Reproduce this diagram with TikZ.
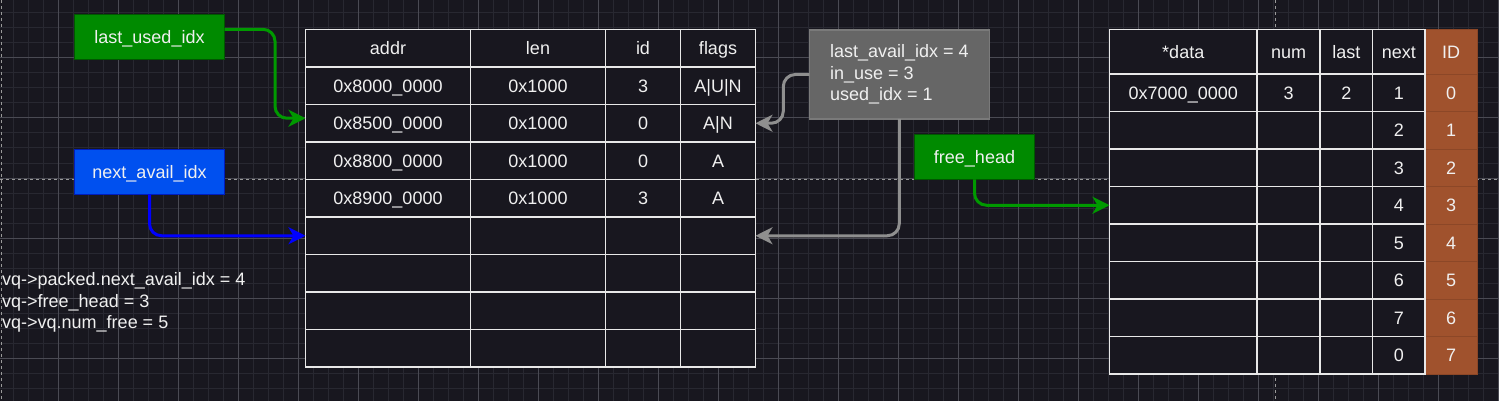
\documentclass[tikz,border=0pt]{standalone}
\usepackage{fontspec}
\setmainfont{Liberation Sans}
\usetikzlibrary{arrows.meta}
\definecolor{bg}{HTML}{18171F}
\definecolor{gminor}{HTML}{282831}
\definecolor{gmajor}{HTML}{4A4A53}
\definecolor{pagebrk}{HTML}{9A9A9A}
\definecolor{cellline}{HTML}{E8E8E8}
\definecolor{txt}{HTML}{F0F0F0}
\definecolor{idfill}{HTML}{A0522D}
\definecolor{idline}{HTML}{8C4727}
\definecolor{gfill}{HTML}{008A00}
\definecolor{gline}{HTML}{005700}
\definecolor{bfill}{HTML}{0050EF}
\definecolor{bline}{HTML}{001DBC}
\definecolor{grfill}{HTML}{666666}
\definecolor{grline}{HTML}{7A7A7A}
\definecolor{garrowc}{HTML}{009900}
\definecolor{barrowc}{HTML}{0000FF}
\definecolor{grarrowc}{HTML}{8F8F8F}
\newcommand\dfont{\fontsize{18}{21.5}\selectfont}
\tikzset{
  cell/.style={draw=cellline, fill=bg, line width=1.5pt, inner sep=0pt, outer sep=0pt,
    anchor=north west, text=txt, font=\dfont, text height=14.5pt, text depth=1.5pt},
  idcell/.style={draw=idline, fill=idfill, line width=0.8pt, inner sep=0pt, outer sep=0pt,
    anchor=north west, text=txt, font=\dfont, text height=14.5pt, text depth=1.5pt},
  boxbase/.style={line width=1.2pt, inner sep=0pt, outer sep=0pt, text=txt, font=\dfont},
  greenbox/.style={boxbase, fill=gfill, draw=gline, text height=14.5pt, text depth=1.5pt},
  bluebox/.style={boxbase, fill=bfill, draw=bline, text height=14.5pt, text depth=1.5pt},
  graybox/.style={boxbase, fill=grfill, draw=grline, align=left},
  conn/.style={line width=3pt, rounded corners=12pt,
    -{Stealth[length=17pt,width=17pt,inset=5pt]}},
  garrow/.style={conn, draw=garrowc},
  barrow/.style={conn, draw=barrowc},
  grarrow/.style={conn, draw=grarrowc},
  brk/.style={draw=pagebrk, line width=1pt, dash pattern=on 3pt off 3pt}
}
% table A row: #1 index, #2 top y, #3 height, #4..#7 texts
\newcommand\arow[7]{%
  \node[cell,minimum width=165pt,minimum height=#3pt] (a-#1-1) at (305.5,#2) {#4};
  \node[cell,minimum width=135pt,minimum height=#3pt] (a-#1-2) at (470.5,#2) {#5};
  \node[cell,minimum width=75pt,minimum height=#3pt] (a-#1-3) at (605.5,#2) {#6};
  \node[cell,minimum width=75pt,minimum height=#3pt] (a-#1-4) at (680.5,#2) {#7};
}
% table B row: #1 index, #2 top y, #3 height, #4..#7 texts, #8 id
\newcommand\brow[8]{%
  \node[idcell,minimum width=52pt,minimum height=#3pt] (b-#1-5) at (1425,#2) {#8};
  \node[cell,minimum width=147.5pt,minimum height=#3pt] (b-#1-1) at (1109.5,#2) {#4};
  \node[cell,minimum width=63pt,minimum height=#3pt] (b-#1-2) at (1257,#2) {#5};
  \node[cell,minimum width=52.5pt,minimum height=#3pt] (b-#1-3) at (1320,#2) {#6};
  \node[cell,minimum width=52.5pt,minimum height=#3pt] (b-#1-4) at (1372.5,#2) {#7};
}
\begin{document}
\begin{tikzpicture}[x=1pt,y=-1pt]
\useasboundingbox (0,0) rectangle (1499,401);
\fill[bg] (0,0) rectangle (1499,401);
% grid
\foreach \x in {13,28,...,1498} \draw[gminor, line width=1pt] (\x,0) -- (\x,401);
\foreach \y in {13,28,...,400} \draw[gminor, line width=1pt] (0,\y) -- (1499,\y);
\foreach \x in {58,118,...,1498} \draw[gmajor, line width=1pt] (\x,0) -- (\x,401);
\foreach \y in {58,118,...,400} \draw[gmajor, line width=1pt] (0,\y) -- (1499,\y);
% page breaks
\draw[brk] (0,179) -- (1499,179);
\draw[brk] (1275,0) -- (1275,401);
\draw[brk] (1,0) -- (1,401);
% table A
\arow{0}{29.5}{37.5}{addr}{len}{id}{flags}
\arow{1}{67}{37.5}{0x8000\_0000}{0x1000}{3}{A|U|N}
\arow{2}{104.5}{37.5}{0x8500\_0000}{0x1000}{0}{A|N}
\arow{3}{142}{37.5}{0x8800\_0000}{0x1000}{0}{A}
\arow{4}{179.5}{37.5}{0x8900\_0000}{0x1000}{3}{A}
\arow{5}{217}{37.5}{}{}{}{}
\arow{6}{254.5}{37.5}{}{}{}{}
\arow{7}{292}{37.5}{}{}{}{}
\arow{8}{329.5}{37.5}{}{}{}{}
% table B
\brow{0}{29.5}{44.5}{*data}{num}{last}{next}{ID}
\brow{1}{74}{37.5}{0x7000\_0000}{3}{2}{1}{0}
\brow{2}{111.5}{37.5}{}{}{}{2}{1}
\brow{3}{149}{37.5}{}{}{}{3}{2}
\brow{4}{186.5}{37.5}{}{}{}{4}{3}
\brow{5}{224}{37.5}{}{}{}{5}{4}
\brow{6}{261.5}{37.5}{}{}{}{6}{5}
\brow{7}{299}{37.5}{}{}{}{7}{6}
\brow{8}{336.5}{37.5}{}{}{}{0}{7}
% boxes
\node[greenbox, minimum width=150.4pt, minimum height=45pt] (lu) at (149.5,36.8) {last\_used\_idx};
\node[bluebox, minimum width=150.4pt, minimum height=45pt] (na) at (149.5,171.8) {next\_avail\_idx};
\node[greenbox, minimum width=120.4pt, minimum height=45pt] (fh) at (974.5,156.8) {free\_head};
\node[graybox, minimum width=180pt, minimum height=89pt] (st) at (899.3,74.5)
  {last\_avail\_idx = 4\\in\_use = 3\\used\_idx = 1};
\node[anchor=west, align=left, inner sep=0pt, text=txt, font=\dfont] (info) at (2,302.5)
  {vq->packed.next\_avail\_idx = 4\\vq->free\_head = 3\\vq->vq.num\_free = 5};
% connectors
\draw[garrow] ([yshift=7.5pt]lu.east) -- ++(50.3,0) |- ([yshift=5pt]a-2-1.west);
\draw[barrow] (na.south) |- (a-5-1.west);
\draw[grarrow] (st.west) -- ++(-26,0) |- (a-2-4.east);
\draw[grarrow] (st.south) |- (a-5-4.east);
\draw[garrow] (fh.south) |- (b-4-1.west);
\end{tikzpicture}
\end{document}
